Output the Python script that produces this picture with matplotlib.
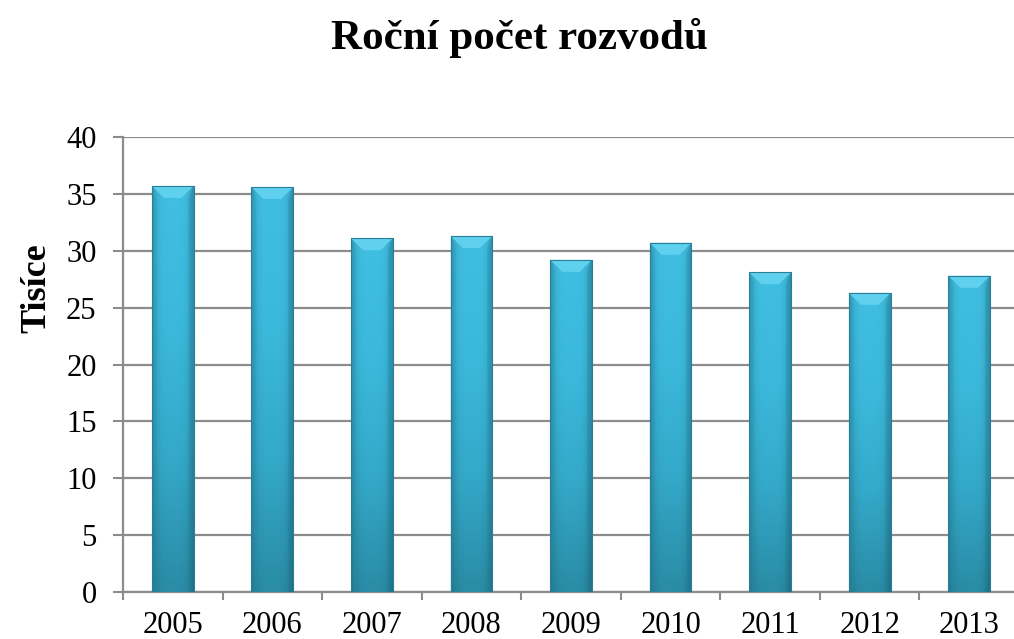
import numpy as np
import matplotlib.pyplot as plt
from matplotlib.colors import LinearSegmentedColormap
from matplotlib.patches import Polygon

# Data (thousands)
years = ['2005', '2006', '2007', '2008', '2009', '2010', '2011', '2012', '2013']
divorces = [35.7, 35.6, 31.1, 31.3, 29.2, 30.7, 28.1, 26.3, 27.8]
y_ticks = [0, 5, 10, 15, 20, 25, 30, 35, 40]

plt.rcParams['font.family'] = ['Liberation Serif', 'DejaVu Serif']

fig = plt.figure(figsize=(10.14, 6.39), dpi=100)
ax = fig.add_axes([123 / 1014, 1 - 592 / 639, 896 / 1014, 455 / 639])

x = np.arange(len(years))
bar_w = 0.42
bars = ax.bar(x, divorces, width=bar_w, color='none', zorder=3)

# gradient fill: lighter cyan on top, darker teal at bottom, darker at sides
vert = LinearSegmentedColormap.from_list('v', ['#2a8ca6', '#34a9c9', '#3bb9dc', '#40bfe2'])
side = np.abs(np.linspace(-1, 1, 60)) ** 4
grad_v = np.linspace(0, 1, 200)[:, None]
for rect in bars:
    x0, w, h = rect.get_x(), rect.get_width(), rect.get_height()
    rgb = vert(grad_v * np.ones((1, 60)))[..., :3]
    rgb = rgb * (1 - 0.22 * side[None, :, None])
    im = ax.imshow(rgb, extent=[x0, x0 + w, 0, h], origin='lower',
                   aspect='auto', zorder=3, interpolation='bilinear')
    im.set_clip_path(rect)
    # top bevel
    bev = 1.05
    ins = 0.29
    ax.add_patch(Polygon([[x0, h], [x0 + w, h], [x0 + w * (1 - ins), h - bev],
                          [x0 + w * ins, h - bev]], closed=True,
                         facecolor='#5fd1ef', edgecolor='none', zorder=4))
    ax.add_patch(Polygon([[x0, h], [x0 + w * 0.12, h - bev], [x0 + w * 0.12, 0],
                          [x0, 0]], closed=True, facecolor='#2b93b0',
                         alpha=0.25, edgecolor='none', zorder=4))
    ax.add_patch(Polygon([[x0 + w, h], [x0 + w * 0.88, h - bev], [x0 + w * 0.88, 0],
                          [x0 + w, 0]], closed=True, facecolor='#1f7790',
                         alpha=0.25, edgecolor='none', zorder=4))
    ax.plot([x0, x0, x0 + w, x0 + w], [0, h, h, 0], color='#2a7f97',
            lw=0.8, zorder=5)

ax.set_xlim(-0.5, len(years) - 0.5)
ax.set_ylim(0, 40)
ax.set_yticks(y_ticks)
ax.yaxis.grid(True, color='#8c8c8c', lw=1.6, zorder=1)
ax.set_axisbelow(True)

ax.set_xticks(x)
ax.set_xticklabels(years, fontsize=22)
ax.set_xticks(np.arange(-0.5, len(years), 1), minor=True)
ax.tick_params(axis='x', which='major', length=0, pad=14)
ax.tick_params(axis='x', which='minor', length=6, width=1.5, color='#8c8c8c')
ax.tick_params(axis='y', length=7, width=1.5, color='#8c8c8c', labelsize=22, pad=12)

for s in ['top', 'right']:
    ax.spines[s].set_visible(False)
for s in ['left', 'bottom']:
    ax.spines[s].set_color('#8c8c8c')
    ax.spines[s].set_linewidth(1.6)

fig.text(37 / 1014, 1 - 288 / 639, 'Tisíce', ha='center', va='center',
         rotation=90, fontsize=26, fontweight='bold')
fig.text(519 / 1014, 1 - 38 / 639, 'Roční počet rozvodů', ha='center', va='center',
         fontsize=31, fontweight='bold')

fig.savefig('out.png', dpi=100)
